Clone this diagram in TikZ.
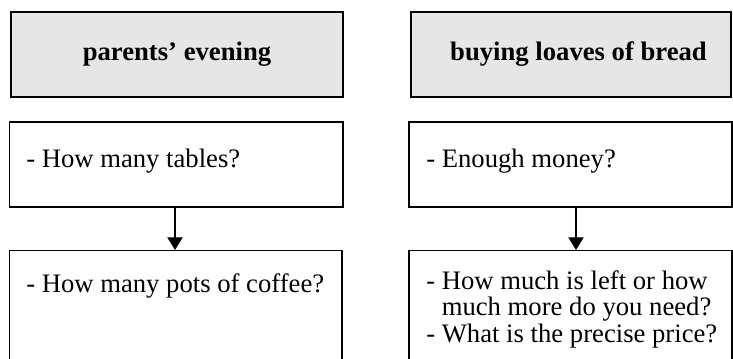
\documentclass[tikz,border=0pt]{standalone}
\usepackage{fontspec}
\setmainfont{Liberation Serif}
\usetikzlibrary{arrows.meta,fit}
\definecolor{headgray}{HTML}{E6E6E6}
\tikzset{
  boxshape/.style={draw=black, line width=0.8pt, inner sep=0pt},
  headbox/.style={boxshape, fill=headgray},
  headtext/.style={font=\fontsize{20}{20}\selectfont\bfseries, inner sep=0pt, anchor=center},
  bodytext/.style={font=\fontsize{20}{20}\selectfont, inner sep=0pt, align=left},
  flowarrow/.style={line width=0.8pt, -{Triangle[width=11.5pt,length=9.5pt]}}
}
\begin{document}
\begin{tikzpicture}[x=0.75pt,y=-0.75pt]
\useasboundingbox (0,0) rectangle (733,358);
\clip (0,0) rectangle (733,358);
% left column
\node[headbox, fit={(11,12) (343,97)}] (hL) {};
\node[headtext] (hLt) at (177,54.5) {parents’ evening};
\node[boxshape, fit={(9.5,122) (343,207)}] (aL) {};
\node[bodytext, anchor=base west] (aLt) at (26,167) {- How many tables?};
\node[boxshape, fit={(9.5,250.5) (342,400)}] (bL) {};
\node[bodytext, anchor=base west] (bLt) at (26,292) {- How many pots of coffee?};
\draw[flowarrow] (aL.south -| 175,0) -- (bL.north -| 175,0);
% right column
\node[headbox, fit={(411,12) (731,97)}] (hR) {};
\node[headtext] (hRt) at (578.5,54.5) {buying loaves of bread};
\node[boxshape, fit={(409,122) (732,207)}] (aR) {};
\node[bodytext, anchor=base west] (aRt) at (426,167) {- Enough money?};
\node[boxshape, fit={(409,250.5) (732,400)}] (bR) {};
\node[bodytext, anchor=north west] (bRt) at (426,270.1) {- How much is left or how\\\hphantom{- }much more do you need?\\- What is the precise price?};
\draw[flowarrow] (aR.south -| 576,0) -- (bR.north -| 576,0);
\end{tikzpicture}
\end{document}
